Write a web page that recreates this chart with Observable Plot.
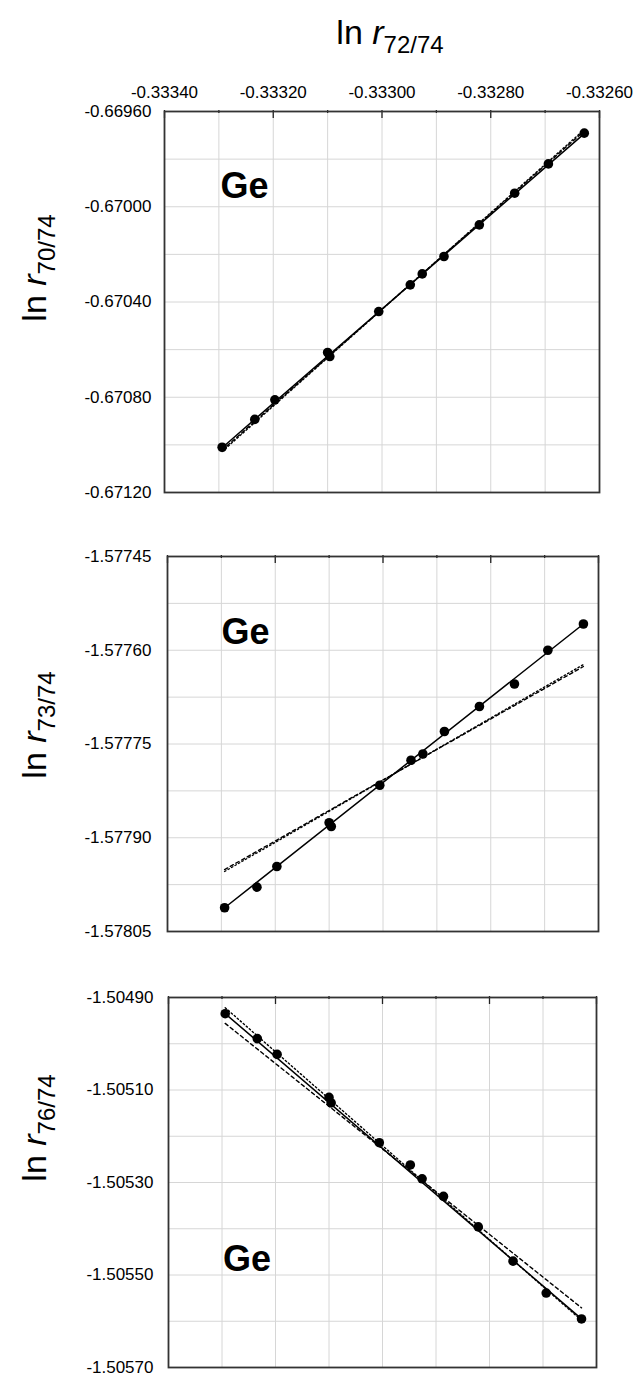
<!DOCTYPE html>
<html><head><meta charset="utf-8">
<script src="https://cdn.jsdelivr.net/npm/d3@7"></script>
<script src="https://cdn.jsdelivr.net/npm/@observablehq/plot@0.6"></script>
<style>
body{margin:0;background:#fff;font-family:Arial,"Liberation Sans",sans-serif;}
#wrap{position:relative;width:636px;height:1377px;overflow:hidden;}
.panel{position:absolute;left:0;}
.ytitle{position:absolute;transform:translate(-50%,-50%) rotate(-90deg);white-space:nowrap;font-size:34px;color:#000;}
.xtitle{position:absolute;transform:translate(-50%,-50%);white-space:nowrap;font-size:34px;color:#000;}
sub{font-size:24px;vertical-align:-9px;}
</style></head><body><div id="wrap"></div>
<script>
// shared x values: ln r72/74
const xValues = [-0.333294, -0.333234, -0.333197, -0.333100, -0.333096, -0.333006, -0.332948, -0.332926, -0.332886, -0.332821, -0.332756, -0.332694, -0.332628];
// y values per panel
const y70 = [-0.671010, -0.670893, -0.670811, -0.670612, -0.670629, -0.670440, -0.670328, -0.670282, -0.670209, -0.670076, -0.669943, -0.669820, -0.669691];
const y73 = [-1.578012, -1.577979, -1.577946, -1.577876, -1.577882, -1.577816, -1.577776, -1.577766, -1.577730, -1.577690, -1.577654, -1.577600, -1.577558];
const y76 = [-1.504935, -1.504989, -1.505023, -1.505116, -1.505128, -1.505214, -1.505262, -1.505292, -1.505330, -1.505396, -1.505470, -1.505539, -1.505595];
// line end values (x shared)
const lineX = [-0.333294, -0.332628];
const fit70 = [-0.671012, -0.669693];
const lawA70 = [-0.671028, -0.669676];
const lawB70 = [-0.671022, -0.669682];
const fit73 = [-1.578012, -1.577558];
const lawA73 = [-1.577954, -1.577623];
const lawB73 = [-1.577951, -1.577626];
const fit76 = [-1.504935, -1.505595];
const lawA76 = [-1.504922, -1.505598];
const lawB76 = [-1.504956, -1.505571];
// ticks
const xDomain = [-0.33340, -0.33260];
const xTicksMajor = [-0.33340, -0.33320, -0.33300, -0.33280, -0.33260];
const xTicksMinor = [-0.33330, -0.33310, -0.33290, -0.33270];
const y70Domain = [-0.67120, -0.66960];
const y70Ticks = [-0.66960, -0.67000, -0.67040, -0.67080, -0.67120];
const y70Grid = [-0.66980, -0.67000, -0.67020, -0.67040, -0.67060, -0.67080, -0.67100];
const y73Domain = [-1.57805, -1.57745];
const y73Ticks = [-1.57745, -1.57760, -1.57775, -1.57790, -1.57805];
const y73Grid = [-1.577525, -1.57760, -1.577675, -1.57775, -1.577825, -1.57790, -1.577975];
const y76Domain = [-1.50570, -1.50490];
const y76Ticks = [-1.50490, -1.50510, -1.50530, -1.50550, -1.50570];
const y76Grid = [-1.50500, -1.50510, -1.50520, -1.50530, -1.50540, -1.50550, -1.50560];

const panels = [
  {top: 0, height: 500, mt: 111, mb: 8, ml: 164, mr: 37, pad: 13, labels: true, y: y70, fit: fit70, A: lawA70, B: lawB70, dom: y70Domain, ticks: y70Ticks, grid: y70Grid, geDx: 56, geDy: 75, title: "70/74", titleY: 268},
  {top: 520, height: 420, mt: 36, mb: 9, ml: 167, mr: 38, pad: 16, labels: false, y: y73, fit: fit73, A: lawA73, B: lawB73, dom: y73Domain, ticks: y73Ticks, grid: y73Grid, geDx: 54, geDy: 76, title: "73/74", titleY: 725},
  {top: 960, height: 417, mt: 37, mb: 10, ml: 168, mr: 40, pad: 15, labels: false, y: y76, fit: fit76, A: lawA76, B: lawB76, dom: y76Domain, ticks: y76Ticks, grid: y76Grid, geDx: 54.5, geDy: 262, title: "76/74", titleY: 1128}
];

const wrap = document.getElementById("wrap");
const fmt = d => d.toFixed(5);
const xt = document.createElement("div");
xt.className = "xtitle";
xt.style.left = "390px"; xt.style.top = "36px";
xt.innerHTML = 'ln <i>r</i><sub>72/74</sub>';
wrap.appendChild(xt);

for (const p of panels) {
  const pts = xValues.map((x, i) => ({x, y: p.y[i]}));
  const ln = (arr) => lineX.map((x, i) => ({x, y: arr[i]}));
  const ph = p.height - p.mt - p.mb;
  const marks = [
    Plot.gridX(xTicksMajor.concat(xTicksMinor), {stroke: "#d6d6d6", strokeOpacity: 1, strokeWidth: 1}),
    Plot.gridY(p.grid, {stroke: "#d6d6d6", strokeOpacity: 1, strokeWidth: 1}),
    Plot.axisY(p.ticks, {tickSize: 0, tickPadding: p.pad, tickFormat: fmt, fontSize: 17, label: null}),
    Plot.tickX(xTicksMajor, {x: d => d, insetTop: -1, insetBottom: ph - 7, stroke: "#222", strokeWidth: 1.3}),
    Plot.tickX(xTicksMinor, {x: d => d, insetTop: -1, insetBottom: ph - 2, stroke: "#222", strokeWidth: 1.3}),
    Plot.frame({stroke: "#333", strokeWidth: 1.8}),
    Plot.line(ln(p.B), {x: "x", y: "y", stroke: "#000", strokeWidth: 1.4, strokeDasharray: "3.5,3"}),
    Plot.line(ln(p.A), {x: "x", y: "y", stroke: "#000", strokeWidth: 1.4, strokeDasharray: "1.5,2.5"}),
    Plot.line(ln(p.fit), {x: "x", y: "y", stroke: "#000", strokeWidth: 1.5}),
    Plot.dot(pts, {x: "x", y: "y", r: 4.8, fill: "#000", stroke: "none"}),
    Plot.text(["Ge"], {frameAnchor: "top-left", dx: p.geDx, dy: p.geDy, text: d => d, fontSize: 36, fontWeight: "bold", textAnchor: "start", lineAnchor: "middle", fill: "#000"})
  ];
  if (p.labels) marks.push(Plot.axisX(xTicksMajor, {anchor: "top", tickSize: 0, tickPadding: 14, tickFormat: fmt, fontSize: 17, label: null}));
  const chart = Plot.plot({
    width: 636, height: p.height,
    marginTop: p.mt, marginBottom: p.mb, marginLeft: p.ml, marginRight: p.mr,
    style: {fontFamily: "Arial, 'Liberation Sans', sans-serif", fontSize: "17px", color: "#000", background: "transparent", overflow: "visible"},
    x: {domain: xDomain, axis: null},
    y: {domain: p.dom, axis: null},
    marks
  });
  chart.classList.add("panel");
  chart.style.top = p.top + "px";
  wrap.appendChild(chart);
  const yt = document.createElement("div");
  yt.className = "ytitle";
  yt.style.left = "38px"; yt.style.top = p.titleY + "px";
  yt.innerHTML = 'ln <i>r</i><sub>' + p.title + '</sub>';
  wrap.appendChild(yt);
}
</script></body></html>
